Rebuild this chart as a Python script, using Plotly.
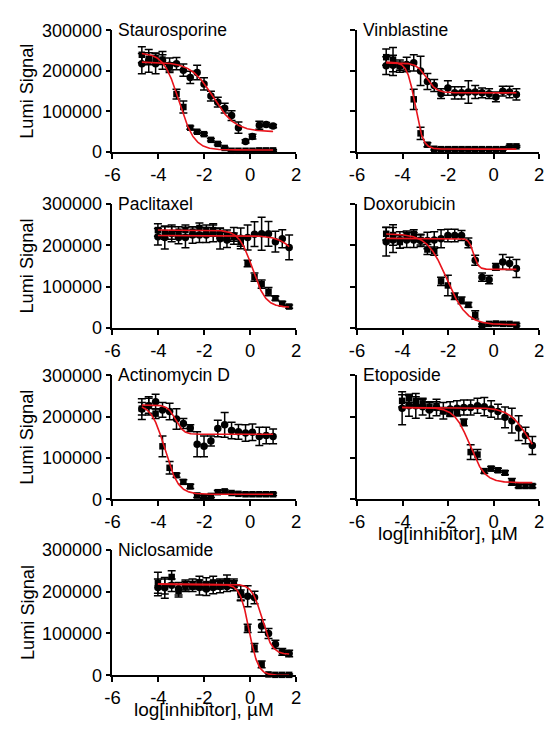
import numpy as np
import plotly.graph_objects as go

# ---------------- data (log[inhibitor], uM ; Lumi Signal) ----------------
X10 = [-4.72, -4.42, -4.12, -3.82, -3.51, -3.21, -2.91, -2.61, -2.31, -2.01,
       -1.71, -1.41, -1.11, -0.81, -0.51, -0.20, 0.10, 0.40, 0.70, 1.00]
X50 = [-4.02, -3.72, -3.42, -3.12, -2.82, -2.51, -2.21, -1.91, -1.61, -1.31,
       -1.01, -0.71, -0.41, -0.11, 0.19, 0.50, 0.80, 1.10, 1.40, 1.70]

TITLES = ["Staurosporine", "Vinblastine", "Paclitaxel", "Doxorubicin",
          "Actinomycin D", "Etoposide", "Niclosamide"]

STAU_C = [218000, 225000, 218000, 226000, 214000, 218000, 202000, 184000, 196000, 168000,
          138000, 123000, 108000, 90000, 60000, 26000, 38000, 66000, 68000, 64000]
STAU_CE = [25000, 28000, 25000, 22000, 18000, 15000, 15000, 15000, 18000, 15000,
           12000, 12000, 12000, 12000, 14000, 4000, 6000, 10000, 5000, 4000]
STAU_S = [240000, 230000, 232000, 228000, 210000, 143000, 111000, 60000, 50000, 44000,
          30000, 20000, 10000, 3000, 3000, 3000, 3000, 4000, 4000, 4000]
STAU_SE = [20000, 15000, 12000, 12000, 10000, 12000, 15000, 4000, 3000, 3000,
           3000, 3000, 2000, 2000, 2000, 2000, 2000, 2000, 2000, 2000]
STAU_FIT_C = [222000, 50000, -1.62, 0.9]
STAU_FIT_S = [245000, 5000, -3.1, 1.3]

VINB_C = [213000, 214000, 212000, 216000, 220000, 200000, 174000, 164000, 144000, 158000,
          146000, 146000, 148000, 148000, 146000, 144000, 136000, 150000, 148000, 142000]
VINB_CE = [22000, 25000, 15000, 18000, 20000, 36000, 20000, 15000, 12000, 18000,
           15000, 15000, 28000, 16000, 12000, 12000, 12000, 12000, 14000, 14000]
VINB_S = [234000, 228000, 212000, 210000, 130000, 46000, 18000, 8000, 7000, 7000,
          7000, 7000, 7000, 7000, 7000, 7000, 7000, 7000, 14000, 14000]
VINB_SE = [20000, 30000, 10000, 10000, 25000, 15000, 5000, 3000, 2000, 2000,
           2000, 2000, 2000, 2000, 2000, 2000, 2000, 2000, 2000, 2000]
VINB_FIT_C = [220000, 146000, -2.95, 2.0]
VINB_FIT_S = [222000, 7000, -3.45, 2.5]

PACL_C = [221000, 219000, 229000, 219000, 219000, 225000, 225000, 225000, 229000, 216000,
          213000, 223000, 217000, 219000, 227000, 228000, 228000, 209000, 216000, 195000]
PACL_CE = [20000, 28000, 20000, 15000, 25000, 20000, 18000, 18000, 20000, 25000,
           18000, 20000, 25000, 30000, 30000, 40000, 30000, 25000, 22000, 30000]
PACL_S = [237000, 230000, 230000, 233000, 237000, 233000, 242000, 237000, 237000, 230000,
          225000, 220000, 208000, 156000, 123000, 106000, 88000, 72000, 59000, 52000]
PACL_SE = [15000, 15000, 15000, 12000, 12000, 12000, 12000, 12000, 15000, 12000,
           12000, 10000, 10000, 8000, 10000, 10000, 10000, 5000, 5000, 4000]
PACL_FIT_C = [224000, 60000, 2.4, 1.0]
PACL_FIT_S = [237000, 50000, 0.1, 1.5]

DOXO_C = [209000, 213000, 213000, 213000, 213000, 212000, 212000, 213000, 216000, 224000,
          224000, 224000, 206000, 164000, 123000, 117000, 148000, 160000, 156000, 144000]
DOXO_CE = [35000, 30000, 20000, 18000, 18000, 15000, 20000, 20000, 22000, 15000,
           15000, 12000, 12000, 12000, 10000, 10000, 8000, 18000, 15000, 22000]
DOXO_S = [228000, 225000, 208000, 225000, 228000, 213000, 190000, 186000, 113000, 103000,
          77000, 67000, 56000, 32000, 7000, 10000, 11000, 10000, 10000, 8000]
DOXO_SE = [15000, 25000, 15000, 10000, 10000, 12000, 12000, 10000, 10000, 25000,
           8000, 8000, 6000, 10000, 3000, 3000, 3000, 3000, 3000, 3000]
DOXO_FIT_C = [217000, 142000, -0.88, 4.0]
DOXO_FIT_S = [228000, 8000, -2.05, 1.0]

ACTD_C = [218000, 226000, 236000, 216000, 212000, 194000, 183000, 172000, 133000, 128000,
          141000, 171000, 180000, 166000, 163000, 160000, 162000, 152000, 154000, 152000]
ACTD_CE = [25000, 22000, 18000, 18000, 20000, 25000, 12000, 8000, 30000, 25000,
           12000, 20000, 30000, 20000, 18000, 20000, 20000, 22000, 20000, 18000]
ACTD_S = [219000, 226000, 207000, 128000, 76000, 58000, 42000, 31000, 9000, 5000,
          8000, 17000, 19000, 15000, 13000, 12000, 12000, 12000, 12000, 12000]
ACTD_SE = [15000, 18000, 12000, 25000, 15000, 5000, 5000, 5000, 5000, 4000,
           4000, 4000, 3000, 3000, 3000, 3000, 3000, 3000, 3000, 3000]
ACTD_FIT_C = [228000, 157000, -3.25, 2.5]
ACTD_FIT_S = [230000, 12000, -3.72, 1.5]

ETOP_C = [220000, 226000, 226000, 224000, 216000, 222000, 214000, 218000, 220000, 222000,
          222000, 226000, 224000, 218000, 212000, 198000, 190000, 172000, 154000, 130000]
ETOP_CE = [40000, 25000, 30000, 20000, 20000, 20000, 20000, 18000, 18000, 18000,
           18000, 18000, 22000, 20000, 18000, 25000, 30000, 30000, 20000, 22000]
ETOP_S = [238000, 244000, 238000, 232000, 224000, 226000, 214000, 210000, 210000, 186000,
          114000, 108000, 68000, 74000, 70000, 64000, 42000, 32000, 32000, 32000]
ETOP_SE = [15000, 10000, 10000, 10000, 10000, 10000, 8000, 8000, 8000, 8000,
           18000, 12000, 5000, 5000, 5000, 5000, 8000, 4000, 4000, 4000]
ETOP_FIT_C = [222000, 70000, 1.55, 1.0]
ETOP_FIT_S = [222000, 40000, -1.05, 1.3]

NICL_C = [210000, 209000, 215000, 207000, 216000, 212000, 210000, 206000, 210000, 212000,
          212000, 214000, 196000, 189000, 186000, 118000, 100000, 74000, 56000, 52000]
NICL_CE = [20000, 25000, 15000, 15000, 12000, 12000, 18000, 15000, 15000, 15000,
           12000, 12000, 18000, 25000, 15000, 15000, 12000, 10000, 8000, 8000]
NICL_S = [221000, 212000, 235000, 202000, 212000, 218000, 222000, 218000, 222000, 218000,
          225000, 220000, 192000, 112000, 66000, 26000, 2000, 1000, 1000, 1000]
NICL_SE = [25000, 18000, 15000, 15000, 12000, 12000, 15000, 15000, 15000, 12000,
           15000, 10000, 12000, 10000, 10000, 8000, 3000, 2000, 2000, 2000]
NICL_FIT_C = [218000, 50000, 0.52, 2.0]
NICL_FIT_S = [218000, 0, -0.05, 2.2]

X_TICKS = [-6, -4, -2, 0, 2]
X_TICKTEXT = ["-6", "-4", "-2", "0", "2"]
Y_TICKS = [0, 100000, 200000, 300000]
Y_TICKTEXT = ["0", "100000", "200000", "300000"]

PANELS = [
    (X10, STAU_C, STAU_CE, STAU_S, STAU_SE, STAU_FIT_C, STAU_FIT_S),
    (X10, VINB_C, VINB_CE, VINB_S, VINB_SE, VINB_FIT_C, VINB_FIT_S),
    (X50, PACL_C, PACL_CE, PACL_S, PACL_SE, PACL_FIT_C, PACL_FIT_S),
    (X10, DOXO_C, DOXO_CE, DOXO_S, DOXO_SE, DOXO_FIT_C, DOXO_FIT_S),
    (X10, ACTD_C, ACTD_CE, ACTD_S, ACTD_SE, ACTD_FIT_C, ACTD_FIT_S),
    (X50, ETOP_C, ETOP_CE, ETOP_S, ETOP_SE, ETOP_FIT_C, ETOP_FIT_S),
    (X50, NICL_C, NICL_CE, NICL_S, NICL_SE, NICL_FIT_C, NICL_FIT_S),
]

# ---------------- layout geometry (pixels) ----------------
W, H = 551, 730
COLS = [(107, 295), (357.5, 544)]
ROWS = [(21, 146), (199.5, 327), (375.5, 503), (555, 684)]
FONT = "Liberation Sans, Arial, sans-serif"
RED = "#e8141c"


def logistic(xx, p):
    top, bottom, logic50, hill = p
    return bottom + (top - bottom) / (1 + 10 ** ((xx - logic50) * hill))


fig = go.Figure()
layout = {}
annotations = []

for i, (x, yc, yce, ys, yse, fc, fs) in enumerate(PANELS):
    r, c = divmod(i, 2)
    n = i + 1
    xr = "x" if n == 1 else f"x{n}"
    yr = "y" if n == 1 else f"y{n}"

    for yy, ee, sym in ((yc, yce, "circle"), (ys, yse, "square")):
        fig.add_trace(go.Scatter(
            x=x, y=yy, mode="markers", xaxis=xr, yaxis=yr, cliponaxis=False,
            marker=dict(symbol=sym, size=7.5 if sym == "circle" else 6.5, color="black"),
            error_y=dict(type="data", array=ee, color="black", thickness=1.5, width=4),
            showlegend=False, hoverinfo="skip"))
    xx = np.linspace(min(x), max(x), 300)
    for p in (fc, fs):
        fig.add_trace(go.Scatter(
            x=xx, y=logistic(xx, p), mode="lines", xaxis=xr, yaxis=yr,
            cliponaxis=False, line=dict(color=RED, width=1.6),
            showlegend=False, hoverinfo="skip"))

    x0, x1 = COLS[c]
    t, b = ROWS[r]
    layout[f"xaxis{'' if n == 1 else n}"] = dict(
        domain=[x0 / W, x1 / W], range=[-6, 2], anchor=yr,
        tickvals=X_TICKS, ticktext=X_TICKTEXT, ticks="outside", ticklen=5,
        tickwidth=1.6, tickcolor="black", showline=True, linewidth=1.6,
        linecolor="black", showgrid=False, zeroline=False,
        tickfont=dict(size=18.5, color="black", family=FONT))
    layout[f"yaxis{'' if n == 1 else n}"] = dict(
        domain=[1 - b / H, 1 - t / H], range=[0, 300000], anchor=xr,
        tickvals=Y_TICKS, ticktext=Y_TICKTEXT, ticks="outside", ticklen=5,
        tickwidth=1.6, tickcolor="black", showline=True, linewidth=1.6,
        linecolor="black", showgrid=False, zeroline=False,
        showticklabels=(c == 0),
        tickfont=dict(size=18, color="black", family=FONT))

    annotations.append(dict(
        text=TITLES[i], xref=xr, yref=yr, x=-6, y=300000, xshift=4,
        xanchor="left", yanchor="middle", showarrow=False,
        font=dict(size=17.5, color="black", family=FONT)))
    if c == 0:
        annotations.append(dict(
            text="Lumi Signal", xref="paper", yref="paper", x=20 / W,
            y=1 - (t + b) / 2 / H, xanchor="center", yanchor="middle",
            textangle=-90, showarrow=False,
            font=dict(size=18.2, color="black", family=FONT)))

for (c, r) in ((1, 2), (0, 3)):
    x0, x1 = COLS[c]
    t, b = ROWS[r]
    annotations.append(dict(
        text="log[inhibitor], µM", xref="paper", yref="paper",
        x=(x0 + x1) / 2 / W, y=1 - (b + 35) / H, xanchor="center",
        yanchor="middle", showarrow=False,
        font=dict(size=19, color="black", family=FONT)))

fig.update_layout(
    width=W, height=H, margin=dict(l=0, r=0, t=0, b=0),
    paper_bgcolor="white", plot_bgcolor="white", showlegend=False,
    font=dict(family=FONT, color="black"), annotations=annotations, **layout)

fig.write_html("out.html")
